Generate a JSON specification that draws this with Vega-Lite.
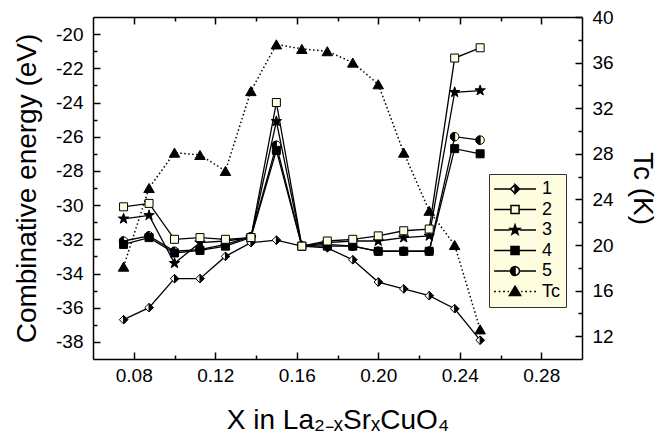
{
  "$schema": "https://vega.github.io/schema/vega-lite/v6.json",
  "width": 489,
  "height": 342,
  "autosize": {"type": "none"},
  "padding": {"left": 93, "top": 17, "right": 87, "bottom": 81},
  "background": "white",
  "config": {
    "font": "Liberation Sans",
    "view": {"stroke": null},
    "axis": {
      "domainColor": "black", "domainWidth": 1.5, "tickColor": "black", "tickWidth": 1.5,
      "labelColor": "black", "titleColor": "black", "labelFont": "Liberation Sans", "titleFont": "Liberation Sans",
      "labelFontSize": 19, "titleFontSize": 28, "titleFontWeight": "normal", "grid": false,
      "labelFlush": false, "labelOverlap": false
    }
  },
  "datasets": {
    "energy": [
      {"x": 0.075, "series": "1", "E": -36.7}, {"x": 0.075, "series": "2", "E": -30.1}, {"x": 0.075, "series": "3", "E": -30.8}, {"x": 0.075, "series": "4", "E": -32.3}, {"x": 0.075, "series": "5", "E": -32.1},
      {"x": 0.0875, "series": "1", "E": -36.0}, {"x": 0.0875, "series": "2", "E": -29.9}, {"x": 0.0875, "series": "3", "E": -30.6}, {"x": 0.0875, "series": "4", "E": -31.9}, {"x": 0.0875, "series": "5", "E": -31.8},
      {"x": 0.1, "series": "1", "E": -34.3}, {"x": 0.1, "series": "2", "E": -32.0}, {"x": 0.1, "series": "3", "E": -33.4}, {"x": 0.1, "series": "4", "E": -32.8}, {"x": 0.1, "series": "5", "E": -32.7},
      {"x": 0.1125, "series": "1", "E": -34.3}, {"x": 0.1125, "series": "2", "E": -31.9}, {"x": 0.1125, "series": "3", "E": -32.2}, {"x": 0.1125, "series": "4", "E": -32.65}, {"x": 0.1125, "series": "5", "E": -32.6},
      {"x": 0.125, "series": "1", "E": -33.0}, {"x": 0.125, "series": "2", "E": -32.0}, {"x": 0.125, "series": "3", "E": -32.1}, {"x": 0.125, "series": "4", "E": -32.4}, {"x": 0.125, "series": "5", "E": -32.3},
      {"x": 0.1375, "series": "1", "E": -32.2}, {"x": 0.1375, "series": "2", "E": -31.9}, {"x": 0.1375, "series": "3", "E": -31.9}, {"x": 0.1375, "series": "4", "E": -31.9}, {"x": 0.1375, "series": "5", "E": -31.85},
      {"x": 0.15, "series": "1", "E": -32.05}, {"x": 0.15, "series": "2", "E": -24.0}, {"x": 0.15, "series": "3", "E": -25.1}, {"x": 0.15, "series": "4", "E": -26.8}, {"x": 0.15, "series": "5", "E": -26.5},
      {"x": 0.1625, "series": "1", "E": -32.4}, {"x": 0.1625, "series": "2", "E": -32.4}, {"x": 0.1625, "series": "3", "E": -32.4}, {"x": 0.1625, "series": "4", "E": -32.4}, {"x": 0.1625, "series": "5", "E": -32.4},
      {"x": 0.175, "series": "1", "E": -32.5}, {"x": 0.175, "series": "2", "E": -32.1}, {"x": 0.175, "series": "3", "E": -32.2}, {"x": 0.175, "series": "4", "E": -32.4}, {"x": 0.175, "series": "5", "E": -32.3},
      {"x": 0.1875, "series": "1", "E": -33.2}, {"x": 0.1875, "series": "2", "E": -32.0}, {"x": 0.1875, "series": "3", "E": -32.1}, {"x": 0.1875, "series": "4", "E": -32.4}, {"x": 0.1875, "series": "5", "E": -32.4},
      {"x": 0.2, "series": "1", "E": -34.5}, {"x": 0.2, "series": "2", "E": -31.8}, {"x": 0.2, "series": "3", "E": -32.1}, {"x": 0.2, "series": "4", "E": -32.7}, {"x": 0.2, "series": "5", "E": -32.7},
      {"x": 0.2125, "series": "1", "E": -34.9}, {"x": 0.2125, "series": "2", "E": -31.5}, {"x": 0.2125, "series": "3", "E": -31.9}, {"x": 0.2125, "series": "4", "E": -32.7}, {"x": 0.2125, "series": "5", "E": -32.7},
      {"x": 0.225, "series": "1", "E": -35.3}, {"x": 0.225, "series": "2", "E": -31.4}, {"x": 0.225, "series": "3", "E": -31.8}, {"x": 0.225, "series": "4", "E": -32.7}, {"x": 0.225, "series": "5", "E": -32.7},
      {"x": 0.2375, "series": "1", "E": -36.06}, {"x": 0.2375, "series": "2", "E": -21.4}, {"x": 0.2375, "series": "3", "E": -23.4}, {"x": 0.2375, "series": "4", "E": -26.7}, {"x": 0.2375, "series": "5", "E": -26.0},
      {"x": 0.25, "series": "1", "E": -37.9}, {"x": 0.25, "series": "2", "E": -20.8}, {"x": 0.25, "series": "3", "E": -23.3}, {"x": 0.25, "series": "4", "E": -27.0}, {"x": 0.25, "series": "5", "E": -26.2}
    ],
    "tc": [
      {"x": 0.075, "series": "Tc", "Tc": 18.1}, {"x": 0.0875, "series": "Tc", "Tc": 25.0}, {"x": 0.1, "series": "Tc", "Tc": 28.1},
      {"x": 0.1125, "series": "Tc", "Tc": 27.9}, {"x": 0.125, "series": "Tc", "Tc": 26.5}, {"x": 0.1375, "series": "Tc", "Tc": 33.5},
      {"x": 0.15, "series": "Tc", "Tc": 37.6}, {"x": 0.1625, "series": "Tc", "Tc": 37.2}, {"x": 0.175, "series": "Tc", "Tc": 37.0},
      {"x": 0.1875, "series": "Tc", "Tc": 36.0}, {"x": 0.2, "series": "Tc", "Tc": 34.1}, {"x": 0.2125, "series": "Tc", "Tc": 28.1},
      {"x": 0.225, "series": "Tc", "Tc": 23.0}, {"x": 0.2375, "series": "Tc", "Tc": 20.0}, {"x": 0.25, "series": "Tc", "Tc": 12.6}
    ]
  },
  "layer": [
    {
      "data": {"name": "energy"},
      "encoding": {
        "x": {
          "field": "x", "type": "quantitative",
          "scale": {"domain": [0.06, 0.30], "nice": false, "zero": false},
          "axis": {
            "orient": "bottom",
            "values": [0.08, 0.1, 0.12, 0.14, 0.16, 0.18, 0.2, 0.22, 0.24, 0.26, 0.28],
            "labelExpr": "round(datum.value*100) % 4 === 0 ? format(datum.value, '.2f') : ''",
            "tickSize": {"condition": {"test": "round(datum.value*100) % 4 === 0", "value": -7}, "value": -4},
            "labelPadding": 14,
            "title": "X in La₂₋ₓSrₓCuO₄",
            "titlePadding": 18
          }
        },
        "y": {
          "field": "E", "type": "quantitative",
          "scale": {"domain": [-39, -19], "nice": false, "zero": false},
          "axis": {
            "orient": "left",
            "values": [-38, -37, -36, -35, -34, -33, -32, -31, -30, -29, -28, -27, -26, -25, -24, -23, -22, -21, -20],
            "labelExpr": "datum.value % 2 === 0 ? '' + datum.value : ''",
            "tickSize": {"condition": {"test": "datum.value % 2 === 0", "value": -7}, "value": -4},
            "labelPadding": 17,
            "title": "Combinative energy (eV)",
            "titlePadding": 14
          }
        }
      },
      "layer": [
        {
          "mark": {"type": "line", "color": "black", "strokeWidth": 1.3},
          "encoding": {"detail": {"field": "series", "type": "nominal"}}
        },
        {
          "transform": [{"filter": "datum.series === '1'"}],
          "mark": {"type": "point", "filled": true, "fill": "#FFFDE0", "stroke": "black", "strokeWidth": 1, "opacity": 1, "shape": "diamond", "size": 72}
        },
        {
          "transform": [{"filter": "datum.series === '1'"}],
          "mark": {"type": "point", "filled": true, "fill": "black", "stroke": "black", "strokeWidth": 1, "opacity": 1, "shape": "M0,-1L1,0L0,1Z", "size": 72}
        },
        {
          "transform": [{"filter": "datum.series === '5'"}],
          "mark": {"type": "point", "filled": true, "fill": "#FFFDE0", "stroke": "black", "strokeWidth": 1, "opacity": 1, "shape": "circle", "size": 72}
        },
        {
          "transform": [{"filter": "datum.series === '5'"}],
          "mark": {"type": "point", "filled": true, "fill": "black", "stroke": "black", "strokeWidth": 1, "opacity": 1, "shape": "M0,-1A1,1 0 0 0 0,1Z", "size": 72}
        },
        {
          "transform": [{"filter": "datum.series === '4'"}],
          "mark": {"type": "point", "filled": true, "fill": "black", "stroke": "black", "strokeWidth": 1, "opacity": 1, "shape": "square", "size": 64}
        },
        {
          "transform": [{"filter": "datum.series === '3'"}],
          "mark": {"type": "point", "filled": true, "fill": "black", "stroke": "black", "strokeWidth": 1, "opacity": 1, "shape": "M0,-1.15L0.27,-0.37L1.09,-0.36L0.44,0.14L0.68,0.93L0,0.46L-0.68,0.93L-0.44,0.14L-1.09,-0.36L-0.27,-0.37Z", "size": 90}
        },
        {
          "transform": [{"filter": "datum.series === '2'"}],
          "mark": {"type": "point", "filled": true, "fill": "#FFFDE0", "stroke": "black", "strokeWidth": 1, "opacity": 1, "shape": "square", "size": 64}
        },
        {
          "transform": [{"filter": "datum.x < 0"}],
          "mark": {"type": "point", "filled": true, "stroke": "black", "strokeWidth": 1, "opacity": 1},
          "encoding": {
            "shape": {
              "field": "series", "type": "nominal",
              "scale": {
                "domain": ["1", "2", "3", "4", "5", "Tc"],
                "range": [
                  "M-2.2,0L1.45,0M3.45,0L7.1,0M2.45,-1L1.45,0M1.45,0L2.45,1M2.45,-1L3.45,0L2.45,1Z",
                  "M-2.2,0L1.55,0M3.35,0L7.1,0M1.55,-0.9L3.35,-0.9L3.35,0.9L1.55,0.9Z",
                  "M-2.2,0L1.4,0M3.5,0L7.1,0M2.45,-1.15L2.72,-0.37L3.54,-0.36L2.89,0.14L3.13,0.93L2.45,0.46L1.77,0.93L2.01,0.14L1.36,-0.36L2.18,-0.37Z",
                  "M-2.2,0L1.55,0M3.35,0L7.1,0M1.55,-0.9L3.35,-0.9L3.35,0.9L1.55,0.9Z",
                  "M-2.2,0L1.45,0M3.45,0L7.1,0M2.45,-1A1,1 0 0 0 2.45,1ZM2.45,-1L2.95,-0.866M2.95,-0.866L3.316,-0.5M3.316,-0.5L3.45,0M3.45,0L3.316,0.5M3.316,0.5L2.95,0.866M2.95,0.866L2.45,1",
                  "M-2.2,0L-1.8,0M-1.2,0L-0.8,0M-0.2,0L0.2,0M0.8,0L1.1,0M2.45,-1.2L3.7,0.9L1.2,0.9ZM3.8,0L4.1,0M4.7,0L5.1,0M5.7,0L6.1,0M6.7,0L7.1,0"
                ]
              },
              "legend": {
                "title": null, "orient": "none", "legendX": 396, "legendY": 157,
                "fillColor": "#FFFDE0", "strokeColor": "#333333", "padding": 6,
                "symbolSize": 81, "labelOffset": 29,
                "labelFontSize": 18, "labelFont": "Liberation Sans", "labelColor": "black", "rowPadding": 2.5
              }
            },
            "fill": {
              "field": "series", "type": "nominal",
              "scale": {"domain": ["1", "2", "3", "4", "5", "Tc"], "range": ["black", "#FFFDE0", "black", "black", "black", "black"]},
              "legend": {
                "title": null, "orient": "none", "legendX": 396, "legendY": 157,
                "fillColor": "#FFFDE0", "strokeColor": "#333333", "padding": 6,
                "symbolSize": 81, "labelOffset": 29,
                "labelFontSize": 18, "labelFont": "Liberation Sans", "labelColor": "black", "rowPadding": 2.5
              }
            }
          }
        }
      ]
    },
    {
      "data": {"name": "tc"},
      "encoding": {
        "x": {
          "field": "x", "type": "quantitative",
          "scale": {"domain": [0.06, 0.30], "nice": false, "zero": false},
          "axis": {
            "orient": "top",
            "values": [0.08, 0.1, 0.12, 0.14, 0.16, 0.18, 0.2, 0.22, 0.24, 0.26, 0.28],
            "labels": false,
            "tickSize": {"condition": {"test": "round(datum.value*100) % 4 === 0", "value": -7}, "value": -4},
            "title": null
          }
        },
        "y": {
          "field": "Tc", "type": "quantitative",
          "scale": {"domain": [10, 40], "nice": false, "zero": false},
          "axis": {
            "orient": "right",
            "values": [12, 14, 16, 18, 20, 22, 24, 26, 28, 30, 32, 34, 36, 38, 40],
            "labelExpr": "datum.value % 4 === 0 ? '' + datum.value : ''",
            "tickSize": {"condition": {"test": "datum.value % 4 === 0", "value": -7}, "value": -4},
            "labelPadding": 17,
            "title": "Tc (K)",
            "titlePadding": 14
          }
        }
      },
      "layer": [
        {
          "mark": {"type": "line", "color": "black", "strokeWidth": 1.5, "strokeDash": [1.5, 2.5]},
          "encoding": {}
        },
        {
          "mark": {"type": "point", "filled": true, "fill": "black", "stroke": "black", "strokeWidth": 1, "opacity": 1, "shape": "triangle-up", "size": 110}
        }
      ]
    }
  ],
  "resolve": {"scale": {"x": "independent", "y": "independent"}}
}
